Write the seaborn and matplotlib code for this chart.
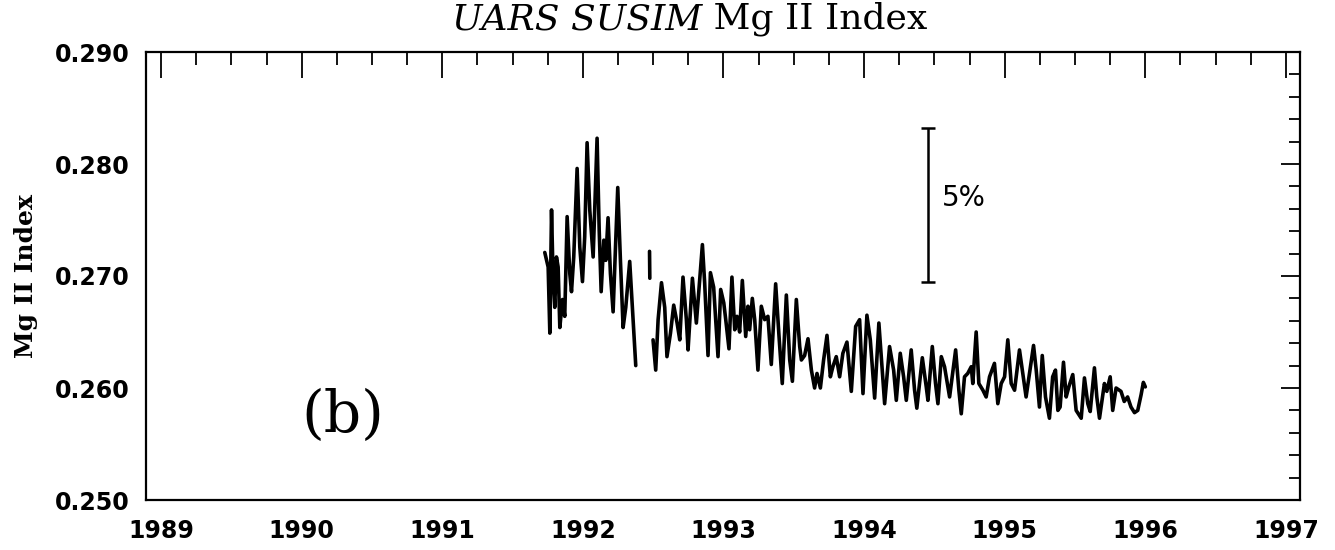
import numpy as np
import pandas as pd
import matplotlib
matplotlib.use("Agg")
import matplotlib.pyplot as plt
import seaborn as sns
from matplotlib.ticker import MultipleLocator, FormatStrFormatter

# --- data (decimal year, Mg II index) ---
# segment before the mid-1992 gap
seg1_year = [1991.729, 1991.753, 1991.765, 1991.777, 1991.788, 1991.800, 1991.812, 1991.824,
             1991.836, 1991.855, 1991.871, 1991.888, 1991.907, 1991.919, 1991.935, 1991.959,
             1991.978, 1991.997, 1992.013, 1992.030, 1992.049, 1992.073, 1992.101, 1992.116,
             1992.130, 1992.149, 1992.163, 1992.179, 1992.196, 1992.215, 1992.232, 1992.248,
             1992.267, 1992.286, 1992.305, 1992.333, 1992.352, 1992.376]
seg1_mg = [0.2721, 0.2708, 0.2649, 0.2759, 0.2699, 0.2672, 0.2717, 0.2708,
           0.2654, 0.2679, 0.2664, 0.2753, 0.2702, 0.2686, 0.2717, 0.2796,
           0.2726, 0.2695, 0.2735, 0.2819, 0.2759, 0.2717, 0.2823, 0.2741,
           0.2686, 0.2732, 0.2714, 0.2752, 0.2702, 0.2668, 0.2726, 0.2779,
           0.2714, 0.2654, 0.2672, 0.2713, 0.2672, 0.2620]

# short isolated piece inside the gap
seg2_year = [1992.474, 1992.476]
seg2_mg = [0.2722, 0.2698]

# main record after the gap
seg3_year = [1992.499, 1992.518, 1992.535, 1992.559, 1992.582, 1992.598, 1992.623, 1992.646,
             1992.670, 1992.689, 1992.712, 1992.736, 1992.748, 1992.779, 1992.807, 1992.831,
             1992.850, 1992.866, 1992.890, 1992.907, 1992.930, 1992.961, 1992.980, 1993.002,
             1993.016, 1993.039, 1993.060, 1993.080, 1993.096, 1993.115, 1993.134, 1993.158,
             1993.174, 1993.186, 1993.205, 1993.222, 1993.245, 1993.269, 1993.293, 1993.316,
             1993.340, 1993.371, 1993.395, 1993.418, 1993.447, 1993.471, 1993.490, 1993.518,
             1993.542, 1993.554, 1993.577, 1993.601, 1993.625, 1993.648, 1993.665, 1993.689,
             1993.712, 1993.736, 1993.760, 1993.778, 1993.802, 1993.826, 1993.849, 1993.878,
             1993.909, 1993.940, 1993.968, 1993.992, 1994.020, 1994.044, 1994.075, 1994.105,
             1994.146, 1994.181, 1994.210, 1994.229, 1994.257, 1994.281, 1994.300, 1994.335,
             1994.359, 1994.375, 1994.414, 1994.442, 1994.454, 1994.485, 1994.508, 1994.525,
             1994.549, 1994.572, 1994.608, 1994.651, 1994.674, 1994.691, 1994.714, 1994.737,
             1994.762, 1994.773, 1994.797, 1994.816, 1994.845, 1994.868, 1994.892, 1994.927,
             1994.951, 1994.975, 1994.999, 1995.022, 1995.046, 1995.070, 1995.105, 1995.152,
             1995.205, 1995.224, 1995.247, 1995.267, 1995.290, 1995.318, 1995.341, 1995.361,
             1995.378, 1995.394, 1995.418, 1995.437, 1995.456, 1995.484, 1995.508, 1995.544,
             1995.567, 1995.591, 1995.608, 1995.638, 1995.655, 1995.674, 1995.709, 1995.726,
             1995.750, 1995.768, 1995.792, 1995.827, 1995.850, 1995.874, 1995.898, 1995.923,
             1995.946, 1995.970, 1995.986, 1996.000]
seg3_mg = [0.2643, 0.2616, 0.2661, 0.2694, 0.2672, 0.2628, 0.2649, 0.2674,
           0.2658, 0.2643, 0.2699, 0.2661, 0.2634, 0.2698, 0.2658, 0.2697,
           0.2728, 0.2694, 0.2629, 0.2703, 0.2690, 0.2628, 0.2688, 0.2676,
           0.2661, 0.2635, 0.2699, 0.2652, 0.2664, 0.2650, 0.2696, 0.2646,
           0.2673, 0.2652, 0.2680, 0.2661, 0.2616, 0.2673, 0.2661, 0.2664,
           0.2621, 0.2693, 0.2646, 0.2604, 0.2683, 0.2625, 0.2606, 0.2679,
           0.2637, 0.2625, 0.2629, 0.2644, 0.2616, 0.2600, 0.2613, 0.2600,
           0.2625, 0.2647, 0.2610, 0.2619, 0.2628, 0.2610, 0.2631, 0.2641,
           0.2597, 0.2655, 0.2661, 0.2595, 0.2665, 0.2643, 0.2591, 0.2658,
           0.2586, 0.2637, 0.2616, 0.2589, 0.2631, 0.2610, 0.2589, 0.2634,
           0.2598, 0.2582, 0.2627, 0.2601, 0.2589, 0.2637, 0.2604, 0.2586,
           0.2628, 0.2619, 0.2592, 0.2634, 0.2598, 0.2577, 0.2610, 0.2613,
           0.2619, 0.2604, 0.2650, 0.2604, 0.2598, 0.2592, 0.2610, 0.2622,
           0.2586, 0.2604, 0.2610, 0.2643, 0.2604, 0.2598, 0.2634, 0.2592,
           0.2638, 0.2616, 0.2583, 0.2629, 0.2592, 0.2573, 0.2610, 0.2616,
           0.2580, 0.2583, 0.2623, 0.2592, 0.2601, 0.2612, 0.2580, 0.2573,
           0.2609, 0.2586, 0.2579, 0.2618, 0.2592, 0.2573, 0.2604, 0.2597,
           0.2610, 0.2580, 0.2600, 0.2597, 0.2588, 0.2592, 0.2583, 0.2578,
           0.2580, 0.2594, 0.2605, 0.2601]

# 5% scale bar
scale_year = 1994.451
scale_low, scale_high = 0.26946, 0.28321

df = pd.concat([
    pd.DataFrame({"year": seg1_year, "mg": seg1_mg, "segment": 1}),
    pd.DataFrame({"year": seg2_year, "mg": seg2_mg, "segment": 2}),
    pd.DataFrame({"year": seg3_year, "mg": seg3_mg, "segment": 3}),
])

sns.set_theme(style="white")
plt.rcParams["font.family"] = ["DejaVu Sans"]
plt.rcParams.update({"text.color": "black", "axes.labelcolor": "black",
                     "xtick.color": "black", "ytick.color": "black"})

fig = plt.figure(figsize=(13.35, 5.5), dpi=100)
ax = fig.add_axes([146 / 1335, 1 - 500 / 550, (1300 - 146) / 1335, (500 - 52) / 550])

sns.lineplot(data=df, x="year", y="mg", units="segment", estimator=None,
             color="black", lw=2.6, ax=ax)

# scale bar
ax.errorbar([scale_year], [(scale_low + scale_high) / 2], yerr=[(scale_high - scale_low) / 2],
            fmt="none", ecolor="black", elinewidth=1.8, capsize=5, capthick=1.8)
ax.text(1994.55, 0.2770, "5%", fontsize=20, va="center", ha="left")

ax.text(1990.29, 0.2575, "(b)", fontsize=42, family="DejaVu Serif",
        ha="center", va="center")

ax.set_xlim(1988.893, 1997.10)
ax.set_ylim(0.250, 0.290)
ax.xaxis.set_major_locator(MultipleLocator(1))
ax.xaxis.set_minor_locator(MultipleLocator(0.25))
ax.yaxis.set_major_locator(MultipleLocator(0.010))
ax.yaxis.set_minor_locator(MultipleLocator(0.002))
ax.yaxis.set_major_formatter(FormatStrFormatter("%.3f"))
ax.xaxis.set_major_formatter(FormatStrFormatter("%d"))

ax.tick_params(axis="both", which="both", direction="in", top=True, right=True, width=1.3)
ax.tick_params(axis="x", which="major", length=19, labelsize=17, pad=14)
ax.tick_params(axis="x", which="minor", length=9)
ax.tick_params(axis="y", which="major", length=14, labelsize=17, pad=12)
ax.tick_params(axis="y", which="minor", length=8)
for lab in ax.get_xticklabels() + ax.get_yticklabels():
    lab.set_fontweight("bold")

for sp in ax.spines.values():
    sp.set_visible(True)
    sp.set_color("black")
    sp.set_linewidth(1.6)

ax.set_xlabel("")
ax.set_ylabel("Mg II Index", fontsize=18, fontweight="bold", family="DejaVu Serif", labelpad=12)

# title: italic instrument name followed by upright text
t1 = fig.text(452 / 1335, 1 - 29 / 550, "UARS SUSIM", fontsize=26, style="italic",
              family="DejaVu Serif", ha="left", va="baseline")
fig.canvas.draw()
ax.annotate(" Mg II Index", xy=(1, 0), xycoords=t1, ha="left", va="bottom",
            fontsize=26, family="DejaVu Serif", annotation_clip=False)

fig.savefig("out.png", dpi=100, facecolor="white")
